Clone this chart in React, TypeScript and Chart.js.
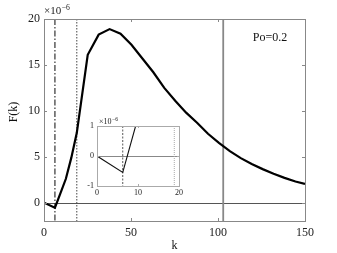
import React, { useEffect, useRef } from "react";
import { Chart, registerables } from "chart.js";
Chart.register(...registerables);

// wavenumbers k and F(k) in units of 1e-6
const kValues = [0, 6.28, 9.42, 12.57, 15.71, 18.85, 25.13, 31.42, 37.7, 43.98, 50.27, 56.55, 62.83, 69.12, 75.4, 81.68, 87.96, 94.25, 100.53, 106.81, 113.1, 119.38, 125.66, 131.95, 138.23, 144.51, 150];
const fValues = [0, -0.55, 1.0, 2.6, 4.9, 7.6, 16.1, 18.3, 18.9, 18.4, 17.2, 15.7, 14.2, 12.5, 11.1, 9.8, 8.7, 7.5, 6.5, 5.6, 4.85, 4.2, 3.65, 3.15, 2.7, 2.3, 2.03];
const xTicks = [0, 50, 100, 150];
const yTicks = [0, 5, 10, 15, 20];
const insetXTicks = [0, 10, 20];
const insetYTicks = [-1, 0, 1];
const dashDotK = 6.28;
const dottedK = 18.85;
const solidK = 103;
const annotation = "Po=0.2";

const FONT = "'Liberation Serif', 'DejaVu Serif', serif";

function drawMultiplier(ctx: CanvasRenderingContext2D, x: number, y: number, size: number) {
  ctx.save();
  ctx.fillStyle = "#222";
  ctx.textBaseline = "alphabetic";
  ctx.textAlign = "left";
  ctx.font = `${size}px ${FONT}`;
  const base = "\u00d710";
  ctx.fillText(base, x, y);
  const w = ctx.measureText(base).width;
  ctx.font = `${size * 0.7}px ${FONT}`;
  ctx.fillText("\u22126", x + w + 0.5, y - size * 0.4);
  ctx.restore();
}

function vline(ctx: CanvasRenderingContext2D, x: number, top: number, bottom: number, color: string, width: number, dash: number[]) {
  ctx.save();
  ctx.strokeStyle = color;
  ctx.lineWidth = width;
  ctx.setLineDash(dash);
  ctx.beginPath();
  ctx.moveTo(x, top);
  ctx.lineTo(x, bottom);
  ctx.stroke();
  ctx.restore();
}

function hline(ctx: CanvasRenderingContext2D, y: number, left: number, right: number, color: string, width: number) {
  ctx.save();
  ctx.strokeStyle = color;
  ctx.lineWidth = width;
  ctx.beginPath();
  ctx.moveTo(left, y);
  ctx.lineTo(right, y);
  ctx.stroke();
  ctx.restore();
}

function boxAndTicks(chart: any, xt: number[], yt: number[], color: string, len: number) {
  const ctx = chart.ctx as CanvasRenderingContext2D;
  const a = chart.chartArea;
  const xs = chart.scales.x;
  const ys = chart.scales.y;
  ctx.save();
  ctx.strokeStyle = color;
  ctx.lineWidth = 1;
  ctx.strokeRect(Math.round(a.left) + 0.5, Math.round(a.top) + 0.5, Math.round(a.right - a.left), Math.round(a.bottom - a.top));
  ctx.beginPath();
  xt.forEach((v) => {
    const px = Math.round(xs.getPixelForValue(v)) + 0.5;
    ctx.moveTo(px, a.bottom);
    ctx.lineTo(px, a.bottom - len);
    ctx.moveTo(px, a.top);
    ctx.lineTo(px, a.top + len);
  });
  yt.forEach((v) => {
    const py = Math.round(ys.getPixelForValue(v)) + 0.5;
    ctx.moveTo(a.left, py);
    ctx.lineTo(a.left + len, py);
    ctx.moveTo(a.right, py);
    ctx.lineTo(a.right - len, py);
  });
  ctx.stroke();
  ctx.restore();
}

export default function App() {
  const mainRef = useRef<HTMLCanvasElement>(null);
  const insetRef = useRef<HTMLCanvasElement>(null);

  useEffect(() => {
    const points = kValues.map((k, i) => ({ x: k, y: fValues[i] }));

    const mainDecor = {
      id: "mainDecor",
      beforeDatasetsDraw(chart: any) {
        const ctx = chart.ctx as CanvasRenderingContext2D;
        const a = chart.chartArea;
        const xs = chart.scales.x;
        const ys = chart.scales.y;
        hline(ctx, Math.round(ys.getPixelForValue(0)) + 0.5, a.left, a.right, "#555", 1);
        vline(ctx, xs.getPixelForValue(dashDotK), a.top, a.bottom, "#333", 1.2, [6, 2, 1.5, 2]);
        vline(ctx, xs.getPixelForValue(dottedK), a.top, a.bottom, "#444", 1, [1.5, 1.5]);
        vline(ctx, xs.getPixelForValue(solidK), a.top, a.bottom, "#888", 1.8, []);
      },
      afterDraw(chart: any) {
        const ctx = chart.ctx as CanvasRenderingContext2D;
        const a = chart.chartArea;
        boxAndTicks(chart, xTicks, yTicks, "#888", 3);
        drawMultiplier(ctx, a.left, 14, 11);
        ctx.save();
        ctx.fillStyle = "#111";
        ctx.font = `12px ${FONT}`;
        ctx.textAlign = "center";
        ctx.textBaseline = "middle";
        ctx.fillText(annotation, 270, 38);
        ctx.fillText("k", (a.left + a.right) / 2, 246);
        ctx.translate(14, 112);
        ctx.rotate(-Math.PI / 2);
        ctx.fillText("F(k)", 0, 0);
        ctx.restore();
      },
    };

    const main = new Chart(mainRef.current!, {
      type: "line",
      data: {
        datasets: [
          {
            data: points,
            borderColor: "#000",
            borderWidth: 2.2,
            pointRadius: 0,
            tension: 0,
            fill: false,
          },
        ],
      },
      options: {
        animation: false,
        responsive: false,
        devicePixelRatio: 1,
        layout: { padding: { left: 0, top: 19, right: 32, bottom: 0 } },
        plugins: { legend: { display: false }, tooltip: { enabled: false } },
        scales: {
          x: {
            type: "linear",
            min: 0,
            max: 150,
            grid: { display: false, drawTicks: false },
            border: { display: false },
            afterBuildTicks: (s: any) => {
              s.ticks = xTicks.map((v) => ({ value: v }));
            },
            afterFit: (s: any) => {
              s.height = 32;
            },
            ticks: { color: "#222", padding: 5, maxRotation: 0, font: { family: FONT, size: 12 } },
          },
          y: {
            type: "linear",
            min: -2,
            max: 20,
            grid: { display: false, drawTicks: false },
            border: { display: false },
            afterBuildTicks: (s: any) => {
              s.ticks = yTicks.map((v) => ({ value: v }));
            },
            afterFit: (s: any) => {
              s.width = 44;
            },
            ticks: { color: "#222", padding: 4, font: { family: FONT, size: 12 } },
          },
        },
      },
      plugins: [mainDecor],
    });

    const insetDecor = {
      id: "insetDecor",
      beforeDraw(chart: any) {
        const ctx = chart.ctx as CanvasRenderingContext2D;
        ctx.save();
        ctx.fillStyle = "#fff";
        const a = chart.chartArea;
        ctx.fillRect(a.left, a.top, a.right - a.left, a.bottom - a.top);
        ctx.restore();
      },
      beforeDatasetsDraw(chart: any) {
        const ctx = chart.ctx as CanvasRenderingContext2D;
        const a = chart.chartArea;
        const xs = chart.scales.x;
        const ys = chart.scales.y;
        hline(ctx, Math.round(ys.getPixelForValue(0)) + 0.5, a.left, a.right, "#888", 1);
        vline(ctx, xs.getPixelForValue(dashDotK), a.top, a.bottom, "#444", 0.9, [2, 1.5]);
        vline(ctx, xs.getPixelForValue(dottedK), a.top, a.bottom, "#aaa", 1, [1, 1]);
      },
      afterDraw(chart: any) {
        const ctx = chart.ctx as CanvasRenderingContext2D;
        const a = chart.chartArea;
        boxAndTicks(chart, insetXTicks, insetYTicks, "#aaa", 2);
        drawMultiplier(ctx, a.left + 2, a.top - 2, 8);
      },
    };

    const inset = new Chart(insetRef.current!, {
      type: "line",
      data: {
        datasets: [
          {
            data: points,
            borderColor: "#111",
            borderWidth: 1.1,
            pointRadius: 0,
            tension: 0,
            fill: false,
          },
        ],
      },
      options: {
        animation: false,
        responsive: false,
        devicePixelRatio: 1,
        layout: { padding: { left: 0, top: 14, right: 6, bottom: 0 } },
        plugins: { legend: { display: false }, tooltip: { enabled: false } },
        scales: {
          x: {
            type: "linear",
            min: 0,
            max: 20,
            grid: { display: false, drawTicks: false },
            border: { display: false },
            afterBuildTicks: (s: any) => {
              s.ticks = insetXTicks.map((v) => ({ value: v }));
            },
            afterFit: (s: any) => {
              s.height = 12;
            },
            ticks: { color: "#222", padding: 2, maxRotation: 0, font: { family: FONT, size: 8 } },
          },
          y: {
            type: "linear",
            min: -1,
            max: 1,
            grid: { display: false, drawTicks: false },
            border: { display: false },
            afterBuildTicks: (s: any) => {
              s.ticks = insetYTicks.map((v) => ({ value: v }));
            },
            afterFit: (s: any) => {
              s.width = 27;
            },
            ticks: {
              color: "#222",
              padding: 3,
              font: { family: FONT, size: 8 },
              callback: (v: any) => String(v),
            },
          },
        },
      },
      plugins: [insetDecor],
    });

    return () => {
      main.destroy();
      inset.destroy();
    };
  }, []);

  return (
    <div style={{ position: "fixed", left: 0, top: 0, width: 337, height: 253, background: "#fff" }}>
      <canvas ref={mainRef} width={337} height={253} style={{ position: "absolute", left: 0, top: 0 }} />
      <canvas ref={insetRef} width={115} height={86} style={{ position: "absolute", left: 70, top: 112 }} />
    </div>
  );
}
